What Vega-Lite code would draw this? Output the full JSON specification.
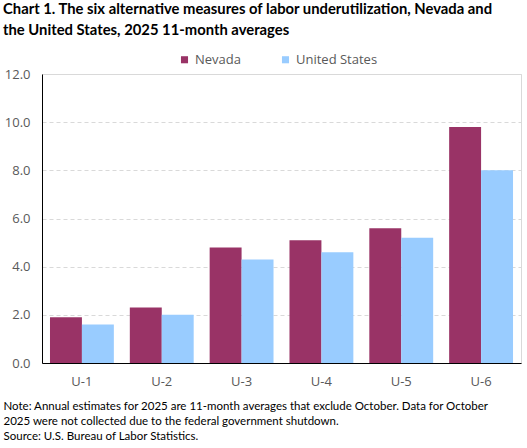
{
  "$schema": "https://vega.github.io/schema/vega-lite/v6.json",
  "autosize": {"type": "none"},
  "padding": {"left": 42, "top": 74, "right": 6, "bottom": 85},
  "width": 479,
  "height": 289,
  "title": {
    "text": ["Chart 1. The six alternative measures of labor underutilization, Nevada and", "the United States, 2025 11-month averages"],
    "anchor": "start",
    "frame": "group",
    "dx": -39,
    "offset": 15,
    "font": "Lato",
    "fontSize": 14.8,
    "fontWeight": "bold",
    "color": "#000000",
    "lineHeight": 21
  },
  "data": {
    "values": [
      {"measure": "U-1", "area": "Nevada", "rate": 1.9},
      {"measure": "U-1", "area": "United States", "rate": 1.6},
      {"measure": "U-2", "area": "Nevada", "rate": 2.3},
      {"measure": "U-2", "area": "United States", "rate": 2.0},
      {"measure": "U-3", "area": "Nevada", "rate": 4.8},
      {"measure": "U-3", "area": "United States", "rate": 4.3},
      {"measure": "U-4", "area": "Nevada", "rate": 5.1},
      {"measure": "U-4", "area": "United States", "rate": 4.6},
      {"measure": "U-5", "area": "Nevada", "rate": 5.6},
      {"measure": "U-5", "area": "United States", "rate": 5.2},
      {"measure": "U-6", "area": "Nevada", "rate": 9.8},
      {"measure": "U-6", "area": "United States", "rate": 8.0}
    ]
  },
  "mark": "bar",
  "encoding": {
    "x": {
      "field": "measure",
      "type": "nominal",
      "scale": {"paddingInner": 0.2, "paddingOuter": 0.1},
      "axis": {
        "labelAngle": 0,
        "labelPadding": 12,
        "ticks": false,
        "domainColor": "#000000",
        "title": [
          "Note:  Annual estimates for 2025 are 11-month averages that exclude October. Data for October",
          "2025 were  not collected due to the  federal government  shutdown.",
          "Source: U.S. Bureau of Labor Statistics."
        ],
        "titleAnchor": "start",
        "titleAlign": "left",
        "titleBaseline": "top",
        "titleX": -39,
        "titleY": 37,
        "titleFont": "Lato",
        "titleFontSize": 11.5,
        "titleFontWeight": "normal",
        "titleColor": "#000000",
        "titleLineHeight": 15
      }
    },
    "xOffset": {
      "field": "area",
      "type": "nominal",
      "sort": ["Nevada", "United States"],
      "scale": {"paddingInner": 0, "paddingOuter": 0}
    },
    "y": {
      "field": "rate",
      "type": "quantitative",
      "scale": {"domain": [0, 12]},
      "axis": {
        "values": [0, 2, 4, 6, 8, 10, 12],
        "format": ".1f",
        "title": null,
        "ticks": false,
        "labelPadding": 12,
        "domainColor": "#000000",
        "grid": true,
        "gridColor": "#d9d9d9",
        "gridDash": [4, 3]
      }
    },
    "color": {
      "field": "area",
      "type": "nominal",
      "sort": ["Nevada", "United States"],
      "scale": {"domain": ["Nevada", "United States"], "range": ["#993366", "#99ccff"]},
      "legend": {
        "title": null,
        "orient": "none",
        "direction": "horizontal",
        "legendX": 136,
        "legendY": -21,
        "symbolType": "square",
        "symbolSize": 50,
        "symbolStrokeWidth": 0,
        "symbolOpacity": 1,
        "labelFont": "Open Sans",
        "labelFontSize": 13,
        "labelColor": "#595959",
        "labelOffset": 4,
        "columnPadding": 38,
        "padding": 0
      }
    }
  },
  "config": {
    "view": {"stroke": "#d9d9d9"},
    "axis": {
      "labelFont": "Open Sans",
      "labelFontSize": 13,
      "labelColor": "#595959",
      "domainWidth": 1
    }
  }
}
